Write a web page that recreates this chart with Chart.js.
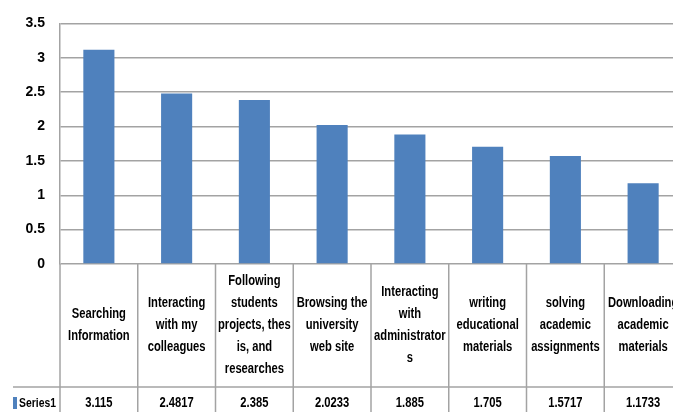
<!DOCTYPE html>
<html>
<head>
<meta charset="utf-8">
<script src="https://cdn.jsdelivr.net/npm/chart.js@4.4.0/dist/chart.umd.min.js"></script>
<style>
  html, body { margin: 0; padding: 0; background: #fff; overflow: hidden; }
  #wrap { width: 684px; height: 412px; }
</style>
</head>
<body>
<div id="wrap"><canvas id="c" width="684" height="412"></canvas></div>
<script>
// Data table categories (one array of lines per column, as wrapped in the original)
var CATEGORIES = [
  ['Searching', 'Information'],
  ['Interacting', 'with my', 'colleagues'],
  ['Following', 'students', 'projects, thes', 'is, and', 'researches'],
  ['Browsing the', 'university', 'web site'],
  ['Interacting', 'with', 'administrator', 's'],
  ['writing', 'educational', 'materials'],
  ['solving', 'academic', 'assignments'],
  ['Downloading', 'academic', 'materials']
];
var SERIES_NAME = 'Series1';
var SERIES1 = [3.115, 2.4817, 2.385, 2.0233, 1.885, 1.705, 1.5717, 1.1733];
var Y_TICKS = [0, 0.5, 1, 1.5, 2, 2.5, 3, 3.5];

var FONT = '"Liberation Sans", Arial, sans-serif';
var BAR = '#4F81BD';
var GRID = '#a3a3a3';
var LABEL_ROW_H = 123;   // height of the category-label row under the plot
var SQUEEZE = 0.8;       // horizontal squeeze to mimic the narrow original font

function squeezedText(ctx, t, x, y) {
  ctx.save();
  ctx.translate(x, y);
  ctx.scale(SQUEEZE, 1);
  ctx.fillText(t, 0, 0);
  ctx.restore();
}

// Draws the data table (category names + values) under the plot area
var dataTablePlugin = {
  id: 'dataTable',
  afterDraw: function (chart) {
    var ctx = chart.ctx;
    var xs = chart.scales.x;
    var area = chart.chartArea;
    var H = chart.height;
    var step = xs.getPixelForValue(1) - xs.getPixelForValue(0);
    var rowY = area.bottom + LABEL_ROW_H;

    ctx.save();
    ctx.strokeStyle = GRID;
    ctx.lineWidth = 1.5;

    // column separators
    for (var i = 0; i <= CATEGORIES.length; i++) {
      var x = xs.getPixelForValue(0) - step / 2 + i * step;
      ctx.beginPath();
      ctx.moveTo(x, area.bottom);
      ctx.lineTo(x, H);
      ctx.stroke();
    }
    // row separator between labels and values
    ctx.beginPath();
    ctx.moveTo(13, rowY);
    ctx.lineTo(chart.width, rowY);
    ctx.stroke();

    ctx.fillStyle = '#000';
    ctx.textAlign = 'center';
    ctx.textBaseline = 'middle';
    ctx.font = 'bold 14px ' + FONT;
    var lh = 22;
    var midY = (area.bottom + rowY) / 2;
    CATEGORIES.forEach(function (lines, i) {
      var cx = xs.getPixelForValue(i);
      var y0 = midY - (lines.length - 1) * lh / 2;
      lines.forEach(function (t, k) {
        squeezedText(ctx, t, cx, y0 + k * lh);
      });
    });

    var valY = rowY + 16;
    ctx.font = 'bold 14px ' + FONT;
    SERIES1.forEach(function (v, i) {
      squeezedText(ctx, String(v), xs.getPixelForValue(i), valY);
    });

    // series legend key
    ctx.fillStyle = BAR;
    ctx.fillRect(13, valY - 6, 4, 12);
    ctx.fillStyle = '#000';
    ctx.textAlign = 'left';
    ctx.font = 'bold 13px ' + FONT;
    squeezedText(ctx, SERIES_NAME, 19, valY);
    ctx.restore();
  }
};

new Chart(document.getElementById('c'), {
  type: 'bar',
  data: {
    labels: CATEGORIES.map(function (l) { return l.join(' '); }),
    datasets: [{
      label: SERIES_NAME,
      data: SERIES1,
      backgroundColor: BAR,
      borderWidth: 0,
      barPercentage: 0.4,
      categoryPercentage: 1
    }]
  },
  options: {
    responsive: false,
    animation: false,
    layout: { padding: { left: 0, top: 21, right: 2, bottom: 148 } },
    plugins: { legend: { display: false }, tooltip: { enabled: false } },
    scales: {
      x: { display: false },
      y: {
        min: 0,
        max: 3.5,
        afterFit: function (s) { s.width = 60; },
        afterBuildTicks: function (s) { s.ticks = Y_TICKS.map(function (v) { return { value: v }; }); },
        ticks: {
          padding: 15,
          color: '#000',
          font: { family: FONT, size: 14, weight: 'bold' },
          callback: function (v) { return String(v); }
        },
        grid: { color: GRID, lineWidth: 1.5, drawTicks: false },
        border: { color: GRID, width: 1.5 }
      }
    }
  },
  plugins: [dataTablePlugin]
});
</script>
</body>
</html>
